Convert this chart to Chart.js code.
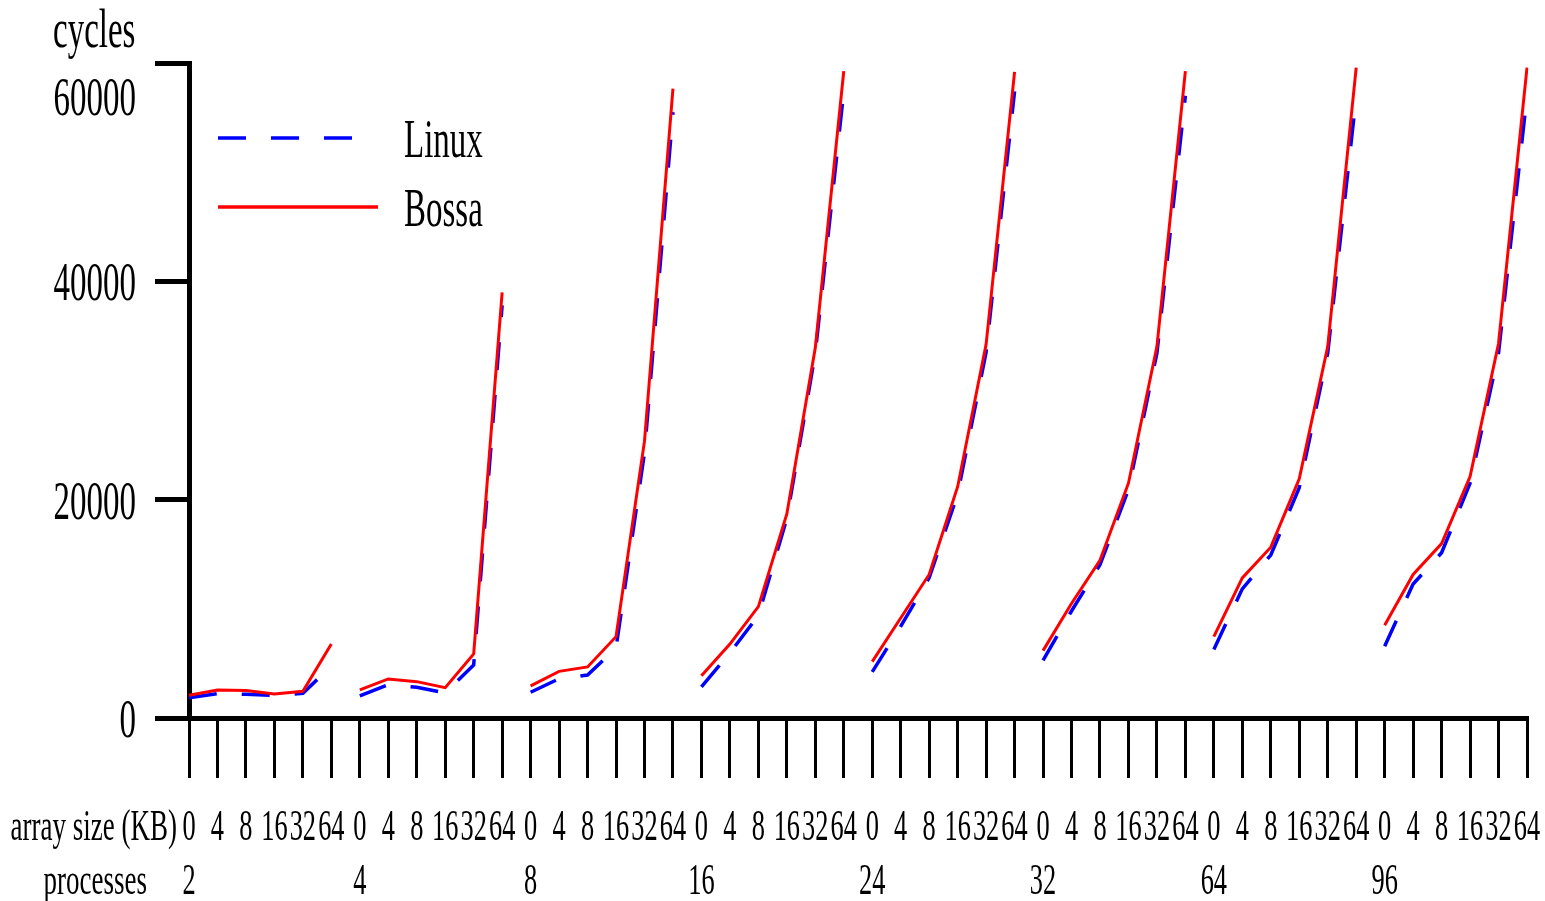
<!DOCTYPE html>
<html>
<head>
<meta charset="utf-8">
<script src="https://cdn.jsdelivr.net/npm/chart.js@4.4.0/dist/chart.umd.min.js"></script>
<style>
  body { margin: 0; background: #fff; }
  #myChart { display: block; }
</style>
</head>
<body>
<canvas id="myChart" width="1545" height="901"></canvas>
<script>
// array sizes tested for each process count
const arraySizes = ["0", "4", "8", "16", "32", "64"];
const processCounts = ["2", "4", "8", "16", "24", "32", "64", "96"];

// cycles, one row of 6 (array sizes) per process count
const linuxCycles = [
    1860, 2230, 2170, 2080, 2260, 4770,
    2020, 3060, 2810, 2300, 4860, 37800,
    2360, 3600, 3940, 6400, 24300, 55500,
    2850, 5960, 9390, 18280, 33420, 57400,
    4230, 8390, 12840, 20500, 33500, 57400,
    5280, 9800, 14040, 20920, 33420, 57000,
    6280, 11830, 14930, 21100, 33420, 56900,
    6570, 12270, 15140, 21500, 33420, 57000
];
const bossaCycles = [
    2080, 2570, 2520, 2190, 2440, 6780,
    2570, 3580, 3330, 2780, 5870, 38990,
    2950, 4270, 4680, 7450, 25360, 57660,
    3860, 6770, 10200, 18690, 33910, 59260,
    5160, 9160, 13150, 21190, 34230, 59180,
    6170, 10490, 14440, 21510, 34020, 59260,
    7460, 12830, 15650, 21920, 34020, 59580,
    8500, 13150, 15980, 22120, 34310, 59580
];
const yTicks = [0, 20000, 40000, 60000];

// one category per (processes, array size) pair
const categories = processCounts.flatMap(p => arraySizes.map(s => p + "/" + s));

const SQUEEZE = 0.6; // the original text is a narrow times
const SERIF = '"Liberation Serif", "Times New Roman", serif';

const squeezedText = (ctx, text, x, y, align, size) => {
    ctx.save();
    ctx.font = `${size}px ${SERIF}`;
    ctx.fillStyle = "#000";
    ctx.textAlign = "left";
    ctx.textBaseline = "alphabetic";
    const w = ctx.measureText(text).width * SQUEEZE;
    let x0 = x;
    if (align === "center") x0 = x - w / 2;
    else if (align === "right") x0 = x - w;
    ctx.translate(x0, y);
    ctx.scale(SQUEEZE, 1);
    ctx.fillText(text, 0, 0);
    ctx.restore();
};

// hide the segment joining the last point of a group to the first of the next one
const groupBreak = (ctx) =>
    ctx.p0DataIndex % arraySizes.length === arraySizes.length - 1 ? "transparent" : undefined;

const textPlugin = {
    id: "textPlugin",
    afterDraw: (chart) => {
        const ctx = chart.ctx;
        const area = chart.chartArea;
        const xs = chart.scales.x;
        const ys = chart.scales.y;

        // y title and tick labels
        squeezedText(ctx, "cycles", area.left - 136, area.top - 16, "left", 55);
        yTicks.forEach(v => {
            const py = ys.getPixelForValue(v);
            const ly = v === ys.max ? py + 52 : py + 19;
            squeezedText(ctx, String(v), area.left - 53, ly, "right", 55);
        });

        // two rows of x labels
        const row1 = area.bottom + 122;
        const row2 = area.bottom + 176;
        squeezedText(ctx, "array size (KB)", area.left - 12, row1, "right", 45);
        squeezedText(ctx, "processes", area.left - 42, row2, "right", 45);
        categories.forEach((c, i) => {
            const px = xs.getPixelForValue(i);
            squeezedText(ctx, arraySizes[i % arraySizes.length], px, row1, "center", 44);
            if (i % arraySizes.length === 0) {
                squeezedText(ctx, processCounts[i / arraySizes.length], px, row2, "center", 44);
            }
        });

        // legend
        const [linux, bossa] = chart.data.datasets;
        ctx.save();
        ctx.lineWidth = 3.5;
        ctx.strokeStyle = linux.borderColor;
        ctx.setLineDash(linux.borderDash);
        ctx.beginPath();
        ctx.moveTo(area.left + 29, area.top + 75);
        ctx.lineTo(area.left + 163, area.top + 75);
        ctx.stroke();
        ctx.strokeStyle = bossa.borderColor;
        ctx.setLineDash([]);
        ctx.beginPath();
        ctx.moveTo(area.left + 29, area.top + 144);
        ctx.lineTo(area.left + 189, area.top + 144);
        ctx.stroke();
        ctx.restore();
        squeezedText(ctx, linux.label, area.left + 215, area.top + 94, "left", 55);
        squeezedText(ctx, bossa.label, area.left + 215, area.top + 163, "left", 55);
    }
};

window.onload = () => {
    const data = {
        labels: categories,
        datasets: [{
            label: "Linux",
            data: linuxCycles,
            borderColor: "rgb(0, 0, 255)",
            borderWidth: 3.5,
            borderDash: [28, 25],
            pointRadius: 0,
            tension: 0,
            order: 2,
            segment: { borderColor: groupBreak }
        }, {
            label: "Bossa",
            data: bossaCycles,
            borderColor: "rgb(255, 0, 0)",
            borderWidth: 3,
            pointRadius: 0,
            tension: 0,
            order: 1,
            segment: { borderColor: groupBreak }
        }]
    };

    new Chart(document.getElementById("myChart"), {
        type: "line",
        data: data,
        options: {
            responsive: false,
            animation: false,
            layout: { padding: { top: 63, right: 18, left: 0, bottom: 0 } },
            plugins: {
                legend: { display: false },
                tooltip: { enabled: false }
            },
            scales: {
                x: {
                    offset: false,
                    afterFit: (s) => { s.height = 183; },
                    ticks: { display: false },
                    grid: {
                        drawOnChartArea: false,
                        tickLength: 60,
                        lineWidth: 3,
                        color: "#000"
                    },
                    border: { display: true, width: 5, color: "#000" }
                },
                y: {
                    min: 0,
                    max: 60000,
                    afterFit: (s) => { s.width = 189; },
                    afterBuildTicks: (s) => { s.ticks = yTicks.map(v => ({ value: v })); },
                    ticks: { display: false },
                    grid: {
                        drawOnChartArea: false,
                        tickLength: 34,
                        lineWidth: 5,
                        color: "#000"
                    },
                    border: { display: true, width: 5, color: "#000" }
                }
            }
        },
        plugins: [textPlugin]
    });
};
</script>
</body>
</html>
